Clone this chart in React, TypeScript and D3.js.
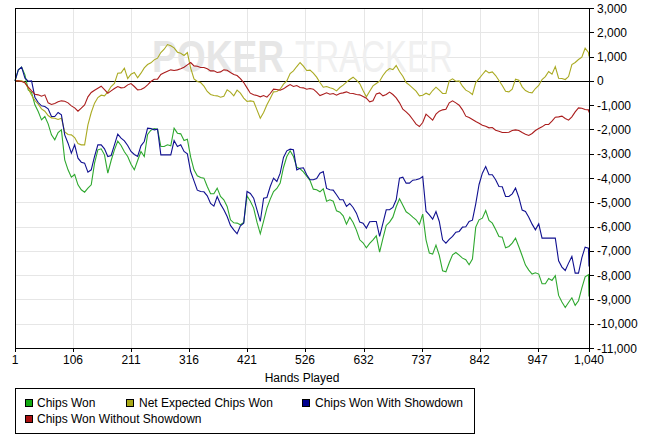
import React from "react";
import * as d3 from "d3";

const HANDS: number[] = d3.range(0, 174).map((j) => 1 + 6 * j).concat([1040]);

const CHIPS_WON: number[] = [
  0, 450, 563, 247, -370, -480, -988, -1262, -1605, -1468, -1770, -2223, -2428, -2127, -2017, -3252, -3663, -3965, -3855, -4280, -4486, -4582, -4418, -4280, -3389, -2840, -2799, -3046, -3800, -3279, -2840, -2483, -2661, -2922, -3114, -3430, -3663, -3279, -2909, -3114, -2209, -2031, -1962, -1989,
  -2703, -2703, -2634, -2675, -1948, -2154, -2182, -2456, -2401, -3142, -3663, -3910, -3979, -4006, -4349, -4651, -4651, -4418, -4761, -4898, -5172, -5721, -5845, -5858, -5927, -5831, -4733, -4953, -5241, -5817, -6297, -5776, -5241, -4871, -4555, -4431, -4212, -3567, -3114, -2881, -3114, -3553, -3622,
  -3746, -3924, -4102, -4459, -4486, -4569, -4445, -4953, -4898, -4953, -5351, -5406, -5557, -5900, -5612, -5831, -6146, -6544, -6668, -6874, -6695, -6544, -6380, -7052, -6489, -5954, -5817, -5612, -5186, -4857, -5118, -5392, -5488, -5612, -5721, -5913, -5488, -6544, -7093, -7134, -6764, -7189, -7820, -7861,
  -7491, -7162, -7066, -7176, -7299, -7368, -7573, -7340, -6023, -5721, -5653, -5337, -5749, -5858, -6119, -6407, -6435, -6874, -6819, -6682, -6476, -6833, -7203, -7587, -7793, -7957, -7902, -7957, -8355, -8355, -8136, -8218, -8026, -8836, -9110, -9330, -9124, -8932, -9247, -9055, -8534, -8067, -7985,
  -8877,
];

const NET_EXPECTED: number[] = [
  0, 0, 0, -69, -316, -590, -809, -960, -1152, -1249, -1427, -1523, -1537, -1592, -1537, -2100, -2209, -2223, -2332, -2579, -2634, -2634, -1811, -1303, -919, -686, -590, -617, -453, -233, -110, 316, 329, 521, 96, 274, 343, 123, 316, 535, 672, 741, 864, 933,
  1166, 1303, 1495, 1441, 1358, 1180, 1139, 1043, 1166, 521, 82, -27, -69, -220, -439, -563, -604, -617, -672, -631, -370, -466, -617, -384, -508, -713, -850, -823, -850, -1194, -1537, -1303, -988, -727, -453, -439, -343, -137, 0, 302, 412, 590, 755,
  604, 425, 439, 316, 151, -69, -261, -233, -288, -329, -412, -274, -178, -55, 55, 151, 27, -110, -398, -658, -425, -206, -110, -14, 220, 398, 508, 466, 631, 384, 192, -69, -178, -302, -425, -617, -590, -508, -576, -398, -261, -384, -521, -521,
  0, 82, -14, 0, -220, -384, -453, -563, -69, 96, 261, 425, 329, 370, 220, 14, -192, -425, -453, -343, 69, 27, -247, -398, -466, -494, -316, -192, 55, 178, 384, 274, 590, 110, 96, 55, 178, 672, 755, 878, 974, 1344, 1166,
  1002,
];

const WITH_SHOWDOWN: number[] = [
  0, 453, 563, 110, -14, 0, -672, -892, -1029, -1056, -1152, -1468, -1468, -1303, -1400, -2223, -2566, -2977, -2634, -3183, -3348, -3389, -3759, -3663, -3114, -2634, -2634, -2799, -3114, -3073, -2634, -2195, -2360, -2470, -2661, -2909, -3032, -3114, -2675, -2497, -1948, -1962, -2017, -1989,
  -3046, -3046, -3046, -3046, -2456, -2703, -2634, -2909, -3005, -3732, -4116, -4500, -4555, -4569, -4733, -5049, -5159, -4761, -5076, -5310, -5584, -5954, -6133, -6297, -5968, -5858, -4555, -4637, -4829, -5310, -5790, -4829, -4802, -4349, -4006, -4143, -3800, -3156, -2881, -2813, -2840, -3663, -3595,
  -3581, -3869, -4075, -4075, -4020, -3800, -3732, -4431, -4486, -4500, -4692, -4898, -4898, -5172, -5049, -5213, -5447, -5817, -5858, -6064, -5803, -5790, -5790, -6407, -5858, -5310, -5310, -5213, -4898, -4006, -3965, -4212, -4212, -4089, -4075, -4034, -3938, -5365, -5515, -5694, -5378, -5790, -6544, -6682,
  -6530, -6407, -6229, -6201, -6023, -6009, -5790, -5735, -5063, -4267, -3800, -3526, -3869, -3869, -4075, -4349, -4363, -4761, -4761, -4651, -4418, -4802, -5323, -5378, -5612, -5900, -6133, -5886, -6476, -6476, -6476, -6476, -6476, -7409, -7669, -7806, -7505, -7230, -7916, -7916, -7285, -6846, -6887,
  -7642,
];

const WITHOUT_SHOWDOWN: number[] = [
  0, 0, -27, -82, -261, -412, -549, -576, -631, -576, -906, -974, -933, -864, -823, -837, -906, -1029, -1111, -1249, -1125, -988, -658, -480, -384, -302, -220, -357, -508, -412, -316, -233, -288, -274, -165, -110, -233, -370, -357, -288, -165, -27, 69, 69,
  261, 329, 398, 453, 425, 453, 494, 563, 659, 755, 617, 604, 549, 549, 494, 412, 412, 343, 370, 453, 439, 343, 261, 220, 96, -69, -288, -508, -576, -604, -658, -604, -672, -521, -343, -357, -384, -329, -233, -151, -233, -192, -274,
  -288, -343, -316, -343, -466, -604, -549, -494, -549, -521, -590, -521, -494, -453, -508, -521, -563, -576, -645, -713, -864, -823, -535, -494, -617, -563, -466, -563, -700, -906, -1166, -1276, -1413, -1592, -1784, -1880, -1715, -1372, -1495, -1619, -1372, -1249, -1194, -1166,
  -906, -823, -906, -1002, -1194, -1454, -1509, -1592, -1674, -1742, -1825, -1866, -1935, -1921, -2031, -2072, -2127, -2127, -2113, -2044, -2017, -2044, -2127, -2195, -2250, -2168, -2044, -1962, -1893, -1797, -1797, -1660, -1495, -1482, -1454, -1550, -1619, -1482, -1276, -1111, -1125, -1180, -1194,
  -1303,
];

const X_TICKS: number[] = [1, 106, 211, 316, 421, 526, 632, 737, 842, 947, 1040];
const Y_TICKS: number[] = [3000, 2000, 1000, 0, -1000, -2000, -3000, -4000, -5000, -6000, -7000, -8000, -9000, -10000, -11000];

const SERIES_NAMES: string[] = ["Chips Won", "Net Expected Chips Won", "Chips Won With Showdown", "Chips Won Without Showdown"];
const SERIES_VALUES: number[][] = [CHIPS_WON, NET_EXPECTED, WITH_SHOWDOWN, WITHOUT_SHOWDOWN];
const LINE_COLORS: string[] = ["#2ea82e", "#aaaa22", "#101090", "#aa1c1c"];
const SWATCH_COLORS: string[] = ["#11aa11", "#a8a816", "#00008f", "#aa1010"];

const W = 647;
const H = 436;
const PL = 15;
const PR = 589;
const PT = 8;
const PB = 348;
const FONT = "'Liberation Sans', Arial, sans-serif";

export default function App() {
  const x = d3.scaleLinear().domain([1, 1040]).range([PL, PR]);
  const y = d3.scaleLinear().domain([-11000, 3000]).range([PB, PT]);
  const fmt = d3.format(",");
  const line = d3
    .line<number>()
    .x((_, i) => x(HANDS[i]))
    .y((d) => y(d));

  const legendItems = [
    { i: 0, sx: 25, sy: 399, tx: 37, ty: 407 },
    { i: 1, sx: 126, sy: 399, tx: 139, ty: 407 },
    { i: 2, sx: 302, sy: 399, tx: 315, ty: 407 },
    { i: 3, sx: 25, sy: 415, tx: 37, ty: 423 },
  ];

  return (
    <svg
      width={W}
      height={H}
      style={{ position: "absolute", left: 0, top: 0, background: "#fff" }}
      fontFamily={FONT}
    >
      <rect x={0} y={0} width={W} height={H} fill="#fff" />
      {/* grid */}
      {Y_TICKS.map((t) => (
        <line key={"gy" + t} x1={PL} x2={PR} y1={Math.round(y(t)) + 0.5} y2={Math.round(y(t)) + 0.5} stroke="#e6e6e6" strokeWidth={1} />
      ))}
      {X_TICKS.map((t) => (
        <line key={"gx" + t} x1={Math.round(x(t)) + 0.5} x2={Math.round(x(t)) + 0.5} y1={PT} y2={PB} stroke="#e6e6e6" strokeWidth={1} />
      ))}
      {/* watermark */}
      <text x={152} y={72} fontSize={44} fontWeight="bold" fill="#e6e6e6" textLength={132} lengthAdjust="spacingAndGlyphs" fontFamily={FONT}>
        POKER
      </text>
      <text x={295} y={72} fontSize={44} fill="#f0f0f0" textLength={158} lengthAdjust="spacingAndGlyphs" fontFamily={FONT}>
        TRACKER
      </text>
      {/* zero line */}
      <line x1={PL} x2={PR} y1={Math.round(y(0)) + 0.5} y2={Math.round(y(0)) + 0.5} stroke="#000" strokeWidth={1} />
      {/* series */}
      {SERIES_VALUES.map((vals, k) => (
        <path key={"s" + k} d={line(vals) || ""} fill="none" stroke={LINE_COLORS[k]} strokeWidth={1.1} strokeLinejoin="miter" />
      ))}
      {/* frame */}
      <rect x={PL + 0.5} y={PT + 0.5} width={PR - PL} height={PB - PT} fill="none" stroke="#000" strokeWidth={1} />
      {/* right axis ticks and labels */}
      {Y_TICKS.map((t) => (
        <g key={"ty" + t}>
          <line x1={PR} x2={PR + 5} y1={Math.round(y(t)) + 0.5} y2={Math.round(y(t)) + 0.5} stroke="#000" />
          <text x={597} y={y(t) + 4.5} fontSize={12} fill="#000">
            {fmt(t).replace("\u2212", "-")}
          </text>
        </g>
      ))}
      {/* x axis ticks and labels */}
      {X_TICKS.map((t) => (
        <g key={"tx" + t}>
          <line x1={Math.round(x(t)) + 0.5} x2={Math.round(x(t)) + 0.5} y1={PB} y2={PB + 4} stroke="#000" />
          <text x={x(t)} y={364} fontSize={12} textAnchor="middle" fill="#000">
            {fmt(t)}
          </text>
        </g>
      ))}
      <text x={(PL + PR) / 2} y={382} fontSize={12} textAnchor="middle" fill="#000">
        Hands Played
      </text>
      {/* legend */}
      <rect x={15.5} y={388.5} width={459} height={45} fill="#fff" stroke="#000" strokeWidth={1} />
      {legendItems.map((it) => (
        <g key={"lg" + it.i}>
          <rect x={it.sx + 0.5} y={it.sy + 0.5} width={7} height={7} fill={SWATCH_COLORS[it.i]} stroke="#000" strokeWidth={1} />
          <text x={it.tx} y={it.ty} fontSize={12} fill="#000">
            {SERIES_NAMES[it.i]}
          </text>
        </g>
      ))}
    </svg>
  );
}
